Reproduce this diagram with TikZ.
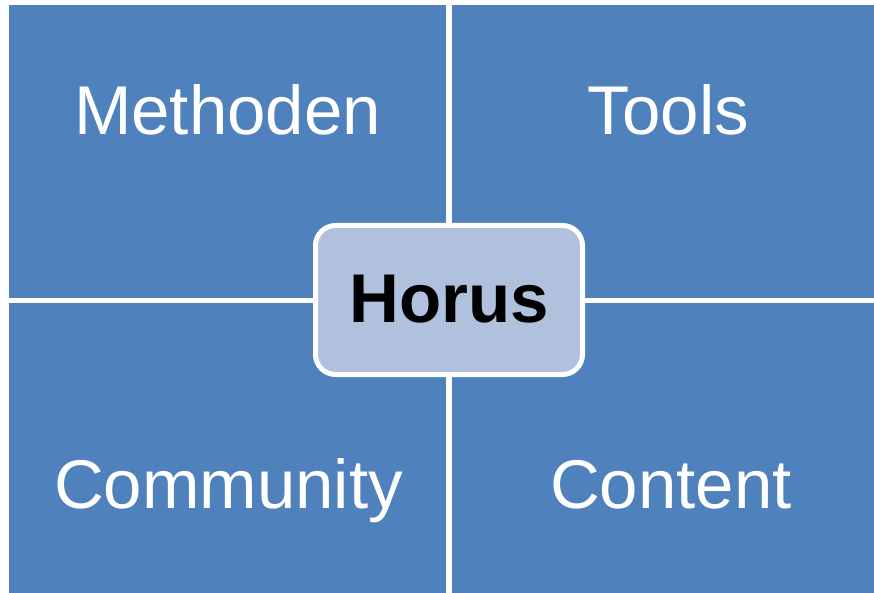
\documentclass[tikz,border=0pt]{standalone}
\usepackage{fontspec}
\setmainfont{Liberation Sans}
\definecolor{quadblue}{HTML}{4F81BD}
\definecolor{centerfill}{HTML}{B0C1DE}
\begin{document}
\begin{tikzpicture}[x=1pt,y=-1pt,
  quad/.style={fill=quadblue,draw=none},
  qlabel/.style={anchor=base,inner sep=0pt,text=white,font=\fontsize{69}{80}\selectfont},
  hbox/.style={draw=white,line width=5pt,fill=centerfill,rounded corners=20pt,
    minimum width=267pt,minimum height=149pt,inner sep=0pt},
  hlabel/.style={anchor=base,inner sep=0pt,text=black,font=\fontsize{69}{80}\selectfont\bfseries}]
\useasboundingbox (0,0) rectangle (874,593);
\fill[white] (0,0) rectangle (874,593);
\path[quad] (9,5) rectangle (446,297.5);
\path[quad] (452,5) rectangle (874,297.5);
\path[quad] (9,303) rectangle (446,593);
\path[quad] (452,303) rectangle (874,593);
\node[qlabel] (methoden) at (227.5,135) {Methoden};
\node[qlabel] (tools) at (668.5,135) {Tools};
\node[qlabel] (community) at (228.5,508) {Community};
\node[qlabel] (content) at (671,508) {Content};
\node[hbox] (horusbox) at (449,300) {};
\node[hlabel] (horus) at (449,322) {Horus};
\end{tikzpicture}
\end{document}
